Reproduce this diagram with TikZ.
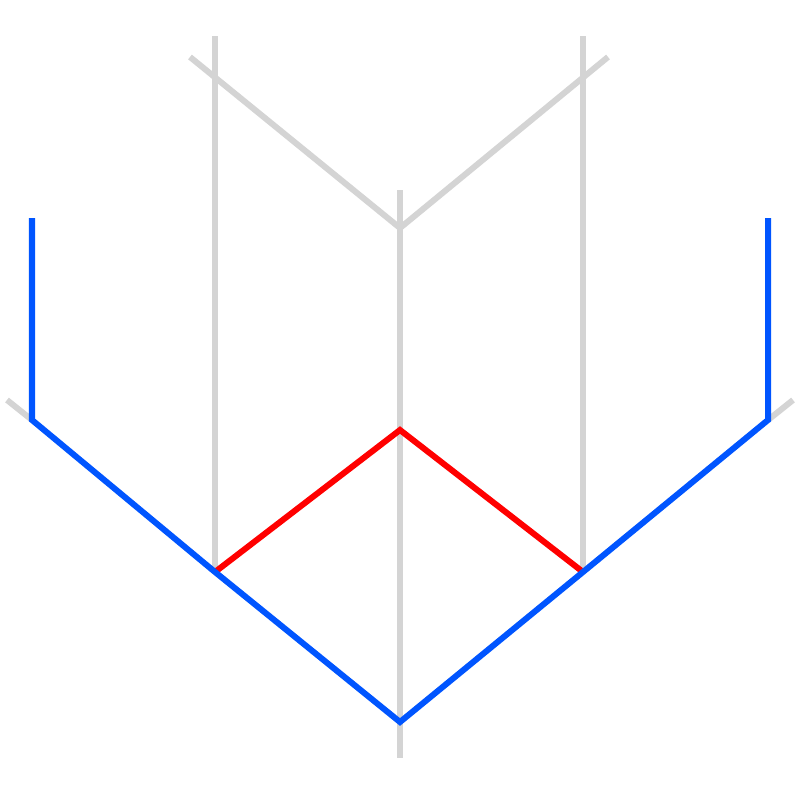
\documentclass[tikz,border=0pt]{standalone}
\begin{document}
\begin{tikzpicture}[x=0.01cm,y=-0.01cm,
  gray line/.style={draw=black!17,line width=0.06cm},
  blue line/.style={draw=blue!100!cyan!0,draw={rgb,255:red,0;green,85;blue,255},line width=0.06cm,line join=miter},
  red line/.style={draw=red,line width=0.06cm}]
\useasboundingbox (0,0) rectangle (800,800);
\coordinate (gl1) at (215,36);  \coordinate (gl2) at (215,572);
\coordinate (gr1) at (583,36);  \coordinate (gr2) at (583,572);
\coordinate (gc1) at (400,190); \coordinate (gc2) at (400,758);
\coordinate (va) at (190,57); \coordinate (vm) at (400,228); \coordinate (vb) at (608,57);
\coordinate (sl) at (7,400); \coordinate (sr) at (793,400);
\coordinate (lt) at (32,218); \coordinate (lb) at (32,420);
\coordinate (rt) at (768,218); \coordinate (rb) at (768,420);
\coordinate (bot) at (400,722); \coordinate (top) at (400,430);
\draw[gray line] (gl1) -- (gl2);
\draw[gray line] (gr1) -- (gr2);
\draw[gray line] (gc1) -- (gc2);
\draw[gray line] (va) -- (vm) -- (vb);
\draw[gray line] (sl) -- (lb);
\draw[gray line] (sr) -- (rb);
\draw[red line] (gl2) -- (top) -- (gr2);
\draw[blue line] (lt) -- (lb) -- (gl2) -- (bot) -- (gr2) -- (rb) -- (rt);
\end{tikzpicture}
\end{document}
